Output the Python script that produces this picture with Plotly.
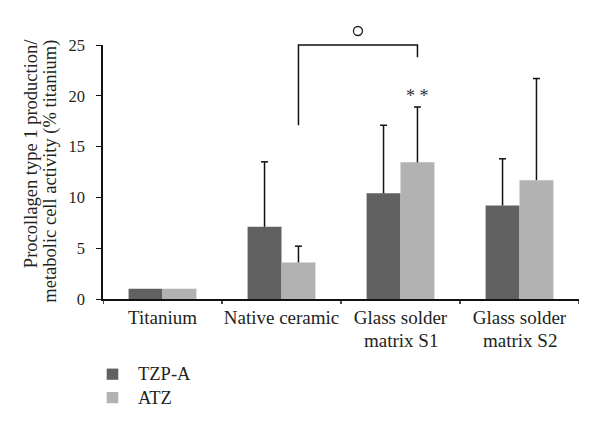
import plotly.graph_objects as go

categories = ["Titanium", "Native ceramic", "Glass solder", "Glass solder"]
categories_line2 = ["", "", "matrix S1", "matrix S2"]
series_names = ["TZP-A", "ATZ"]
series_colors = ["#616161", "#b2b2b2"]
tzp_a = [1.0, 7.1, 10.4, 9.2]
tzp_a_err = [None, 6.4, 6.7, 4.6]
atz = [1.0, 3.6, 13.45, 11.7]
atz_err = [None, 1.6, 5.45, 10.0]
y_ticks = [0, 5, 10, 15, 20, 25]

FONT = "Liberation Serif"
TXT = "#231f20"
BARGAP = 0.43
W, H = 600, 432
OX = OY = 8  # page offset of the plot div (body margin)
L, R, T, B = 95, 29, 37, 141.3
PW = W - L - R
PH = H - T - B


def fx(px):
    return (px - OX - L) / PW


def fy(py):
    return (H - B - (py - OY)) / PH


fig = go.Figure()
x_idx = list(range(len(categories)))
off = (1 - BARGAP) / 4
series = [(series_names[0], series_colors[0], tzp_a, tzp_a_err, -off),
          (series_names[1], series_colors[1], atz, atz_err, off)]
for name, col, vals, errs, dx in series:
    fig.add_trace(go.Bar(
        x=x_idx, y=vals, name=name, marker=dict(color=col, line=dict(width=0)),
        showlegend=False,
        error_y=dict(type="data", symmetric=False, array=errs, arrayminus=[0] * len(vals),
                     color="#111111", thickness=1.5, width=0),
    ))
for name, col, vals, errs, dx in series:
    # error bar caps (top only)
    fig.add_trace(go.Scatter(
        x=[i + dx for i in x_idx],
        y=[v + e if e is not None else None for v, e in zip(vals, errs)],
        mode="markers", showlegend=False, hoverinfo="skip",
        marker=dict(symbol="line-ew", size=5, line=dict(color="#111111", width=1.5)),
    ))

x_left = 1 + off
x_right = 2 + off
fig.add_shape(type="path",
              path=f"M {x_left},{17.1/25} L {x_left},1 L {x_right},1 L {x_right},{23.8/25}",
              line=dict(color="#111111", width=1.5), xref="x", yref="paper")
fig.add_shape(type="circle", xref="x", yref="paper", xsizemode="pixel", ysizemode="pixel",
              xanchor=(x_left + x_right) / 2, yanchor=1 + 14 / PH, x0=-4.5, x1=4.5, y0=-4.5, y1=4.5,
              line=dict(color="#222222", width=1.3))
fig.add_annotation(x=x_right, y=20.0, xref="x", yref="y", text="* *", showarrow=False,
                   font=dict(family=FONT, size=18, color="#333333"), yanchor="middle")

# second lines of category labels
for i, t in enumerate(categories_line2):
    if t:
        fig.add_annotation(x=i, y=fy(340), xref="x", yref="paper", text=t,
                           showarrow=False, yanchor="middle", borderpad=0,
                           font=dict(family=FONT, size=19, color=TXT))

# y-axis title (two lines)
fig.add_annotation(x=fx(31), y=fy(154), xref="paper", yref="paper",
                   text="Procollagen type 1 production/", textangle=-90, showarrow=False,
                   xanchor="center", yanchor="middle", font=dict(family=FONT, size=18.5, color=TXT))
fig.add_annotation(x=fx(51), y=fy(171.5), xref="paper", yref="paper",
                   text="metabolic cell activity (% titanium)", textangle=-90, showarrow=False,
                   xanchor="center", yanchor="middle", font=dict(family=FONT, size=18.5, color=TXT))

# legend
for k, (name, col) in enumerate(zip(series_names, series_colors)):
    cy = 373.8 + 23.4 * k
    fig.add_shape(type="rect", xref="paper", yref="paper",
                  x0=fx(106.7), x1=fx(118.3), y0=fy(cy + 5.6), y1=fy(cy - 5.6),
                  fillcolor=col, line=dict(width=0))
    fig.add_annotation(x=fx(135.5), y=fy(cy), xref="paper", yref="paper", text=name,
                       showarrow=False, xanchor="left", yanchor="middle",
                       font=dict(family=FONT, size=18.5, color=TXT))

fig.update_layout(
    width=W, height=H,
    margin=dict(l=L, r=R, t=T, b=B, autoexpand=False),
    paper_bgcolor="white", plot_bgcolor="white",
    barmode="group", bargap=BARGAP, bargroupgap=0,
    font=dict(family=FONT, size=16, color=TXT),
    showlegend=False,
)
fig.update_xaxes(
    tickmode="array", tickvals=x_idx, ticktext=categories, tickangle=0,
    range=[-0.5, 3.5], showline=True, linecolor="#111111", linewidth=1.5,
    ticks="", showgrid=False, zeroline=False, automargin=False,
    tickfont=dict(family=FONT, size=19, color=TXT),
)
for b in [-0.5, 0.5, 1.5, 2.5, 3.5]:
    fig.add_shape(type="line", xref="x", yref="paper", x0=b, x1=b, y0=0, y1=-5 / PH,
                  line=dict(color="#111111", width=1.5))
fig.update_yaxes(
    range=[0, 25], tickvals=y_ticks, showline=True, linecolor="#111111", linewidth=1.5,
    ticks="outside", ticklen=5, tickcolor="#111111", showgrid=False, zeroline=False,
    automargin=False, ticklabelstandoff=8,
    tickfont=dict(family=FONT, size=16.5, color=TXT),
)
fig.write_html("out.html")
